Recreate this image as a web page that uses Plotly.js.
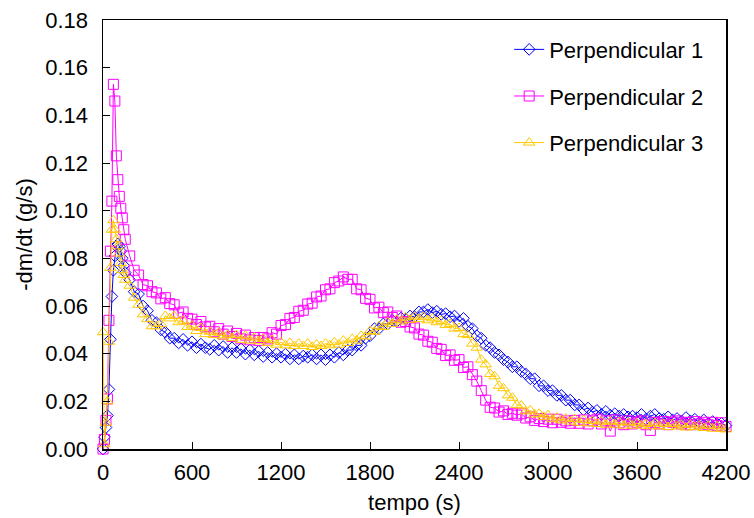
<!DOCTYPE html>
<html>
<head>
<meta charset="utf-8">
<script src="https://cdn.plot.ly/plotly-3.0.1.min.js"></script>
<style>html,body{margin:0;padding:0;background:#fff;}#chart{width:754px;height:518px;}</style>
</head>
<body>
<div id="chart"></div>
<script>
// sampling times (s)
const tempo = [
  0, 10, 20, 30, 40, 50, 60, 70, 80, 90, 100, 110, 120, 130, 140, 150,
  180, 210, 240, 270, 300, 330, 360, 390, 420, 450,
  480, 510, 540, 570, 600, 630, 660, 690, 720, 750,
  780, 810, 840, 870, 900, 930, 960, 990, 1020, 1050,
  1080, 1110, 1140, 1170, 1200, 1230, 1260, 1290, 1320, 1350,
  1380, 1410, 1440, 1470, 1500, 1530, 1560, 1590, 1620, 1650,
  1680, 1710, 1740, 1770, 1800, 1830, 1860, 1890, 1920, 1950,
  1980, 2010, 2040, 2070, 2100, 2130, 2160, 2190, 2220, 2250,
  2280, 2310, 2340, 2370, 2400, 2430, 2460, 2490, 2520, 2550,
  2580, 2610, 2640, 2670, 2700, 2730, 2760, 2790, 2820, 2850,
  2880, 2910, 2940, 2970, 3000, 3030, 3060, 3090, 3120, 3150,
  3180, 3210, 3240, 3270, 3300, 3330, 3360, 3390, 3420, 3450,
  3480, 3510, 3540, 3570, 3600, 3630, 3660, 3690, 3720, 3750,
  3780, 3810, 3840, 3870, 3900, 3930, 3960, 3990, 4020, 4050,
  4080, 4110, 4140, 4170, 4200
];

const perp1 = [
  0, 0.005, 0.009, 0.014, 0.025, 0.046, 0.064, 0.075, 0.081, 0.085, 0.086, 0.085, 0.083, 0.080, 0.077, 0.074,
  0.071, 0.066, 0.065, 0.060, 0.058, 0.054, 0.053, 0.050, 0.049, 0.0465,
  0.0465, 0.0445, 0.046, 0.0435, 0.045, 0.0425, 0.044, 0.0425, 0.0418, 0.0435,
  0.0415, 0.043, 0.0405, 0.0425, 0.0405, 0.042, 0.0398, 0.0415, 0.0395, 0.041,
  0.0388, 0.0405, 0.0385, 0.040, 0.0385, 0.0398, 0.0378, 0.0395, 0.0378, 0.039,
  0.0385, 0.0395, 0.0378, 0.0395, 0.0375, 0.0395, 0.0385, 0.0405, 0.0395, 0.0415,
  0.0415, 0.0435, 0.0435, 0.0465, 0.0475, 0.0505, 0.0505, 0.0525, 0.0525, 0.054,
  0.0535, 0.055, 0.0545, 0.0558, 0.0555, 0.0575, 0.0575, 0.0585, 0.0572, 0.0578,
  0.0565, 0.0568, 0.0555, 0.0558, 0.0535, 0.0548, 0.0515, 0.0505, 0.0475, 0.0465,
  0.0435, 0.0425, 0.0405, 0.0395, 0.0375, 0.0365, 0.0345, 0.0345, 0.0325, 0.0315,
  0.0295, 0.0295, 0.0265, 0.0265, 0.0245, 0.0245, 0.0225, 0.0225, 0.0205, 0.0205,
  0.0185, 0.0185, 0.0165, 0.0172, 0.0155, 0.0162, 0.0145, 0.0158, 0.0142, 0.0148,
  0.0138, 0.0145, 0.0135, 0.0138, 0.0132, 0.0145, 0.0125, 0.0138, 0.0145, 0.0128,
  0.0125, 0.0135, 0.0122, 0.0128, 0.0118, 0.0132, 0.0118, 0.0125, 0.0112, 0.0122,
  0.0108, 0.0115, 0.0105, 0.0108, 0.0098
];

const perp2 = [
  0, 0.004, 0.012, 0.021, 0.054, 0.083, 0.104, 0.153, 0.146, 0.123, 0.113, 0.106, 0.101, 0.097, 0.092, 0.088,
  0.081, 0.075, 0.073, 0.069, 0.0685, 0.066, 0.0655, 0.063, 0.0635, 0.061,
  0.0605, 0.057, 0.0575, 0.0548, 0.0545, 0.0522, 0.0535, 0.0512, 0.0515, 0.0492,
  0.0505, 0.0482, 0.0495, 0.0472, 0.0485, 0.0462, 0.0478, 0.0458, 0.0468, 0.0455,
  0.0468, 0.0462, 0.0488, 0.0482, 0.0518, 0.0522, 0.0548, 0.0552, 0.0578, 0.0582,
  0.0608, 0.0612, 0.0638, 0.0642, 0.0668, 0.0672, 0.0698, 0.0705, 0.0722, 0.0712,
  0.0712, 0.0672, 0.0668, 0.0632, 0.0628, 0.0592, 0.0595, 0.0572, 0.0575, 0.0552,
  0.0558, 0.0532, 0.0535, 0.0512, 0.0508, 0.0482, 0.0478, 0.0452, 0.0448, 0.0422,
  0.0418, 0.0392, 0.0395, 0.0372, 0.0375, 0.0342, 0.0345, 0.0312, 0.0285, 0.0245,
  0.0205, 0.0175, 0.0172, 0.0155, 0.016, 0.0145, 0.015, 0.0142, 0.0148, 0.013,
  0.0135, 0.012, 0.0128, 0.0115, 0.0125, 0.011, 0.0125, 0.0112, 0.0118, 0.0108,
  0.012, 0.0108, 0.0122, 0.0105, 0.0118, 0.0125, 0.0105, 0.0118, 0.0075, 0.0122,
  0.011, 0.0102, 0.0118, 0.0105, 0.0112, 0.0118, 0.0102, 0.0078, 0.0112, 0.0105,
  0.0115, 0.0102, 0.0112, 0.0118, 0.0105, 0.0112, 0.0102, 0.0115, 0.0105, 0.0112,
  0.0102, 0.0112, 0.0098, 0.011, 0.0095
];

const perp3 = [
  0.049, 0.002, 0.011, 0.020, 0.045, 0.076, 0.092, 0.096, 0.092, 0.088, 0.085, 0.082, 0.078, 0.075, 0.073, 0.071,
  0.0685, 0.0635, 0.0605, 0.0565, 0.0545, 0.0515, 0.0515, 0.0525, 0.0558, 0.0548,
  0.0558, 0.0532, 0.0538, 0.0512, 0.0518, 0.0495, 0.0508, 0.0482, 0.0492, 0.0478,
  0.0488, 0.0472, 0.0478, 0.0465, 0.0478, 0.0458, 0.0475, 0.0455, 0.0468, 0.0452,
  0.0462, 0.0445, 0.0458, 0.0438, 0.0448, 0.0435, 0.0445, 0.0432, 0.0442, 0.0432,
  0.0442, 0.0428, 0.0438, 0.0432, 0.0442, 0.0435, 0.0448, 0.0438, 0.0455, 0.0445,
  0.0462, 0.0455, 0.0475, 0.0472, 0.0495, 0.0492, 0.0515, 0.0512, 0.0532, 0.0525,
  0.0542, 0.0535, 0.0552, 0.0542, 0.0555, 0.0545, 0.0555, 0.054, 0.0548, 0.0532,
  0.0538, 0.052, 0.0525, 0.0505, 0.0508, 0.0482, 0.0478, 0.0442, 0.0425, 0.0375,
  0.0355, 0.0315, 0.0305, 0.0265, 0.0255, 0.0225, 0.0215, 0.0185, 0.0182, 0.0158,
  0.0162, 0.0145, 0.0148, 0.0135, 0.0142, 0.0125, 0.0132, 0.012, 0.0128, 0.0115,
  0.0125, 0.011, 0.0122, 0.0108, 0.0118, 0.0105, 0.0115, 0.0102, 0.0115, 0.0102,
  0.0112, 0.0098, 0.0112, 0.0098, 0.0108, 0.0098, 0.0105, 0.0095, 0.0108, 0.0095,
  0.0105, 0.0092, 0.0105, 0.0095, 0.0102, 0.009, 0.0102, 0.0092, 0.0098, 0.0088,
  0.0098, 0.0085, 0.0095, 0.0085, 0.0082
];

const seriesNames = ['Perpendicular 1', 'Perpendicular 2', 'Perpendicular 3'];
const xTicks = [0, 600, 1200, 1800, 2400, 3000, 3600, 4200];

const FONT = 'Liberation Sans, Arial, sans-serif';

function mk(name, y, color, symbol, size, group) {
  return {
    type: 'scatter', mode: 'lines+markers', name: name, x: tempo, y: y,
    legendgroup: group, cliponaxis: false,
    line: {color: color, width: 1},
    marker: {symbol: symbol, size: size, color: color, line: {color: color, width: 1}}
  };
}

const data = [
  mk(seriesNames[0], perp1, '#0000ff', 'diamond-open', 9, 'g1'),
  mk(seriesNames[1], perp2, '#ff00ff', 'square-open', 10, 'g2'),
  mk(seriesNames[2], perp3, '#ffc800', 'triangle-up-open', 10, 'g3')
];

const layout = {
  width: 754, height: 518,
  margin: {l: 103, r: 28, t: 20, b: 69},
  paper_bgcolor: '#ffffff', plot_bgcolor: '#ffffff',
  font: {family: FONT, size: 22, color: '#000'},
  showlegend: true,
  legend: {
    x: 0.652, y: 0.98, xanchor: 'left', yanchor: 'top',
    bgcolor: 'rgba(0,0,0,0)', borderwidth: 0,
    font: {family: FONT, size: 22, color: '#000'},
    tracegroupgap: 15, itemwidth: 30
  },
  xaxis: {
    range: [0, 4200], tickvals: xTicks, ticktext: xTicks.map(String),
    ticks: 'inside', ticklen: 7, tickwidth: 1, tickcolor: '#000',
    showline: true, linecolor: '#000', linewidth: 1.5, mirror: true,
    showgrid: false, zeroline: false, ticklabelstandoff: 3,
    tickfont: {family: FONT, size: 22, color: '#000'},
    title: {text: 'tempo (s)', font: {family: FONT, size: 22, color: '#000'}, standoff: 10}
  },
  yaxis: {
    range: [0, 0.18], dtick: 0.02, tick0: 0, tickformat: '.2f',
    ticks: 'inside', ticklen: 7, tickwidth: 1, tickcolor: '#000',
    showline: true, linecolor: '#000', linewidth: 1.5, mirror: true,
    showgrid: false, zeroline: false, ticklabelstandoff: 9,
    tickfont: {family: FONT, size: 22, color: '#000'},
    title: {text: '-dm/dt (g/s)', font: {family: FONT, size: 22, color: '#000'}, standoff: 6}
  }
};

Plotly.newPlot('chart', data, layout, {displayModeBar: false, staticPlot: true});
</script>
</body>
</html>
